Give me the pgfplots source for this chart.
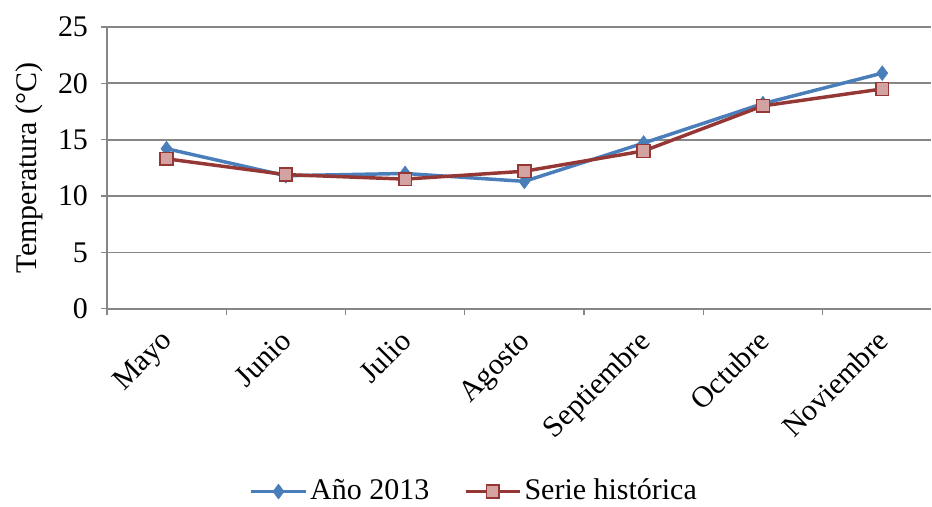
\documentclass[border=0pt]{standalone}
\usepackage{fontspec}
\setmainfont{Liberation Serif}
\usepackage{pgfplots}
\pgfplotsset{compat=1.18}
\definecolor{bl}{HTML}{4A7EBB}
\definecolor{rd}{HTML}{953735}
\definecolor{rdfill}{HTML}{D3A3A2}
\definecolor{gr}{HTML}{868686}
\newcommand{\bigfont}{\fontsize{22.5}{26}\selectfont}
\begin{document}
\bigfont
\begin{tikzpicture}
\begin{axis}[
  name=ax,
  scale only axis,
  width=618.75pt, height=211.5pt,
  xmin=-0.5, xmax=6.41,
  ymin=0, ymax=25,
  ytick={0,5,...,25},
  axis x line*=bottom, axis y line*=left,
  axis line style={gr, line width=1.3pt, -},
  ymajorgrids, grid style={gr, line width=1.3pt},
  tick style={gr, line width=1pt},
  major tick length=4.5pt,
  tick align=outside,
  xtick={-0.5,0.5,...,5.5},
  xticklabels={},
  extra x ticks={0,1,2,3,4,5,6},
  extra x tick labels={Mayo,Junio,Julio,Agosto,Septiembre,Octubre,Noviembre},
  extra x tick style={major tick length=0pt, grid=none,
     tick label style={rotate=45, anchor=north east, inner sep=0pt, xshift=-14pt, yshift=-6.6pt}},
  /pgf/number format/assume math mode=true,
  tick label style={font=\bigfont},
  yticklabel style={inner sep=0pt, anchor=east, xshift=-9.5pt},
  ylabel={Temperatura (°C)},
  ylabel style={font=\bigfont, at={(axis description cs:0,0.5)}, rotate=0, anchor=south, inner sep=0pt, yshift=47.5pt},
  legend style={draw=none, at={(axis description cs:0.446,-0.649)}, anchor=center,
     inner sep=0pt, font=\bigfont, /tikz/every even column/.append style={column sep=24pt}},
  legend columns=2,
  legend image code/.code={
    \draw[#1, mark=none] (0cm,0cm) -- (1.44cm,0cm);
    \draw[#1, only marks] plot coordinates {(0.72cm,0cm)};
  },
]
\addplot[bl, line width=2.6pt, mark=diamond*, mark size=5.5pt, mark options={fill=bl, draw=bl, line width=0.5pt}]
  coordinates {(0,14.2) (1,11.8) (2,12.0) (3,11.3) (4,14.7) (5,18.2) (6,20.9)};
\addlegendentry{Año 2013}
\addplot[rd, line width=2.6pt, mark=square*, mark size=4.8pt, mark options={fill=rdfill, draw=rd, line width=1.2pt}]
  coordinates {(0,13.3) (1,11.9) (2,11.5) (3,12.2) (4,14.0) (5,18.0) (6,19.5)};
\addlegendentry{Serie histórica}
\end{axis}
\path (ax.south west) ++(-80.25pt,-147pt);
\path (ax.north west) ++(0,20.25pt);
\end{tikzpicture}
\end{document}
